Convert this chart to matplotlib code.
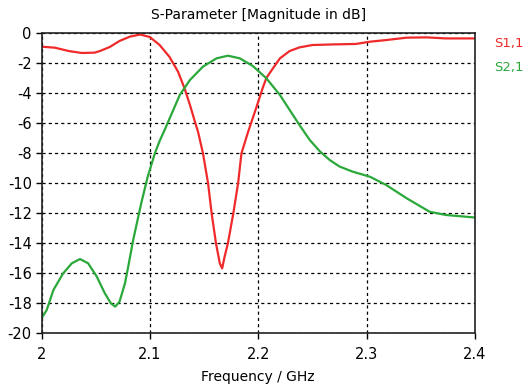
import matplotlib
matplotlib.use("Agg")
import matplotlib.pyplot as plt

s11_f = [2.0, 2.0125, 2.025, 2.037, 2.049, 2.054, 2.063, 2.072, 2.0816, 2.091, 2.1, 2.109, 2.118,
         2.126, 2.132, 2.137, 2.1415, 2.1445, 2.149, 2.1537, 2.157, 2.161, 2.1645, 2.1667, 2.169,
         2.172, 2.177, 2.1814, 2.1845, 2.1906, 2.198, 2.204, 2.2075, 2.2136, 2.22, 2.229, 2.238,
         2.25, 2.269, 2.29, 2.303, 2.318, 2.337, 2.355, 2.373, 2.4]
s11_db = [-0.91, -0.98, -1.2, -1.33, -1.31, -1.2, -0.93, -0.53, -0.24, -0.1, -0.27, -0.8, -1.58,
          -2.58, -3.69, -4.8, -5.9, -6.6, -8.02, -10.02, -12.02, -14.02, -15.35, -15.69, -14.9,
          -14.02, -12.02, -10.02, -8.02, -6.6, -5.02, -3.69, -3.0, -2.35, -1.69, -1.2, -0.96,
          -0.8, -0.76, -0.73, -0.58, -0.47, -0.31, -0.29, -0.36, -0.36]

s21_f = [2.0, 2.0048, 2.011, 2.02, 2.028, 2.0355, 2.043, 2.051, 2.0585, 2.064, 2.068, 2.072, 2.077,
         2.08, 2.0846, 2.092, 2.098, 2.1046, 2.109, 2.114, 2.12, 2.1276, 2.137, 2.149, 2.1615,
         2.172, 2.183, 2.195, 2.2075, 2.22, 2.238, 2.2475, 2.257, 2.266, 2.275, 2.287, 2.303,
         2.318, 2.337, 2.358, 2.373, 2.4]
s21_db = [-19.02, -18.47, -17.13, -16.02, -15.35, -15.07, -15.35, -16.24, -17.36, -18.02, -18.24,
          -17.91, -16.69, -15.58, -13.8, -11.36, -9.58, -8.02, -7.2, -6.4, -5.4, -4.13, -3.13,
          -2.24, -1.69, -1.51, -1.69, -2.2, -3.02, -4.13, -6.13, -7.13, -7.9, -8.47, -8.9, -9.24,
          -9.58, -10.13, -11.02, -11.91, -12.13, -12.3]

x_ticks = [2.0, 2.1, 2.2, 2.3, 2.4]
x_labels = ["2", "2.1", "2.2", "2.3", "2.4"]
y_ticks = list(range(0, -21, -2))

fig = plt.figure(figsize=(5.28, 3.87), dpi=100)
ax = fig.add_axes([0.0786, 0.1395, 0.8210, 0.7752])

red = "#f02a2a"
green = "#2aa83a"
ax.plot(s11_f, s11_db, color=red, lw=1.6, solid_joinstyle="round")
ax.plot(s21_f, s21_db, color=green, lw=1.6, solid_joinstyle="round")

ax.set_xlim(2.0, 2.4)
ax.set_ylim(-20, 0)
ax.set_xticks(x_ticks)
ax.set_xticklabels(x_labels)
ax.set_yticks(y_ticks)
ax.set_yticklabels([str(v) for v in y_ticks])
ax.grid(True, color="black", linestyle=(0, (2.5, 2.5)), linewidth=0.9)
ax.tick_params(direction="out", length=4, width=1, labelsize=10.5, colors="black")
ax.tick_params(axis="x", pad=6)
ax.tick_params(axis="y", pad=3)
for s in ax.spines.values():
    s.set_linewidth(1.2)
    s.set_color("#222222")

ax.set_title("S-Parameter [Magnitude in dB]", fontsize=10, pad=10)
ax.set_xlabel("Frequency / GHz", fontsize=10, labelpad=6)

fig.text(0.935, 0.888, "S1,1", color=red, fontsize=9.5, va="center", ha="left")
fig.text(0.935, 0.825, "S2,1", color=green, fontsize=9.5, va="center", ha="left")

fig.savefig("out.png", dpi=100)
